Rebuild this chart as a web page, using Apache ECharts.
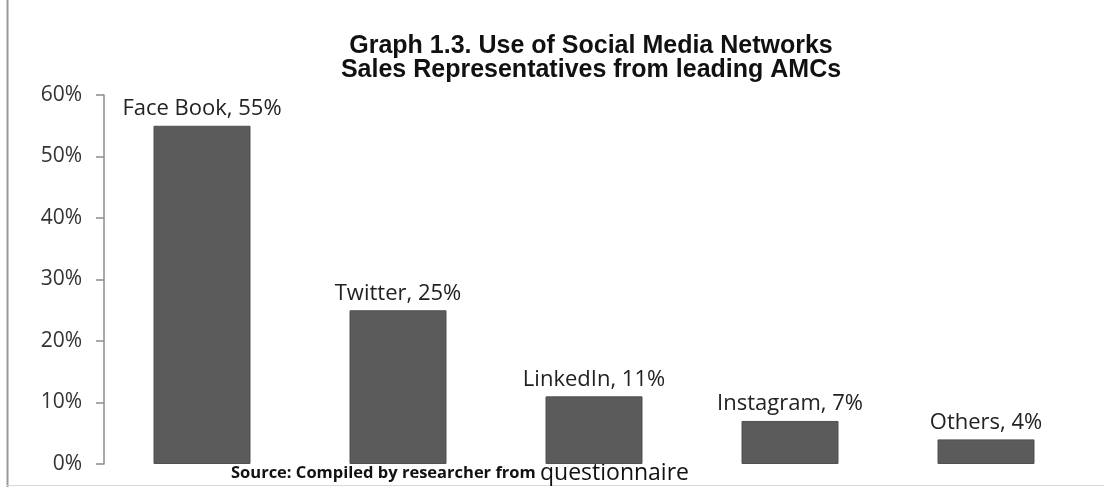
<!DOCTYPE html>
<html>
<head>
<meta charset="utf-8">
<script src="https://cdn.jsdelivr.net/npm/echarts@6/dist/echarts.min.js"></script>
<style>
  html, body { margin: 0; padding: 0; background: #fff; }
  #chart { width: 1104px; height: 487px; }
</style>
</head>
<body>
<div id="chart"></div>
<script>
// Share of sales representatives using each social network (%)
const categories = ['Face Book', 'Twitter', 'LinkedIn', 'Instagram', 'Others'];
const usageShare = [55, 25, 11, 7, 4];
const yTicks = [0, 10, 20, 30, 40, 50, 60];

const chart = echarts.init(document.getElementById('chart'));
const labelFont = '"Open Sans", "Liberation Sans", sans-serif';

chart.setOption({
  backgroundColor: '#ffffff',
  animation: false,
  title: {
    text: 'Graph 1.3. Use of Social Media Networks\nSales Representatives from leading AMCs',
    left: 586,
    top: 29,
    textAlign: 'center',
    textStyle: {
      fontFamily: '"Liberation Sans", Arial, sans-serif',
      fontWeight: 'bold',
      fontSize: 25,
      lineHeight: 24,
      color: '#111'
    }
  },
  grid: { left: 104, right: 20, top: 95, bottom: 23 },
  xAxis: {
    type: 'category',
    data: categories,
    axisLine: { show: false },
    axisTick: { show: false },
    axisLabel: { show: false }
  },
  yAxis: {
    type: 'value',
    min: yTicks[0],
    max: yTicks[yTicks.length - 1],
    interval: 10,
    axisLine: { show: true, lineStyle: { color: '#8c8c8c', width: 1.5 } },
    axisTick: { show: true, length: 8, lineStyle: { color: '#8c8c8c', width: 1.5 } },
    splitLine: { show: false },
    axisLabel: {
      margin: 22,
      formatter: v => v + '%',
      fontFamily: labelFont,
      fontSize: 21,
      color: '#333'
    }
  },
  series: [{
    type: 'bar',
    data: usageShare,
    barWidth: 97,
    itemStyle: { color: '#5b5b5b', borderColor: '#505050', borderWidth: 1 },
    label: {
      show: true,
      position: 'top',
      distance: 6,
      formatter: p => p.name + ', ' + p.value + '%',
      fontFamily: labelFont,
      fontSize: 22,
      color: '#222'
    }
  }],
  graphic: [
    {
      type: 'line',
      shape: { x1: 7.5, y1: 0, x2: 7.5, y2: 487 },
      style: { stroke: '#9a9a9a', lineWidth: 2 }
    },
    {
      type: 'line',
      shape: { x1: 7, y1: 485.5, x2: 1104, y2: 485.5 },
      style: { stroke: '#d8d8d8', lineWidth: 1 }
    },
    {
      type: 'text',
      left: 231,
      top: 462,
      style: {
        text: '{a|Source: Compiled by researcher from }{b|questionnaire}',
        rich: {
          a: { fontFamily: labelFont, fontWeight: 'bold', fontSize: 16.5, fill: '#111' },
          b: { fontFamily: labelFont, fontSize: 23, fill: '#111' }
        }
      }
    }
  ]
});
</script>
</body>
</html>
